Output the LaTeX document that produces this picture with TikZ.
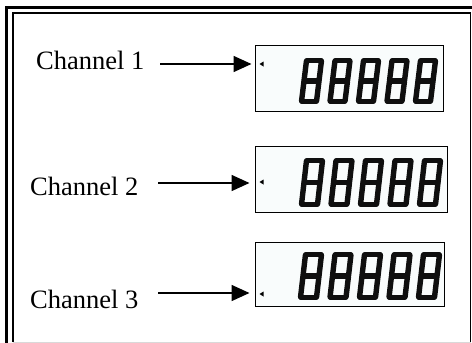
\documentclass[tikz,border=0pt]{standalone}
\usepackage{fontspec}
\setmainfont{Liberation Serif}
\usetikzlibrary{arrows.meta,calc}
\definecolor{lcdbg}{RGB}{249,252,252}
\definecolor{segcol}{RGB}{15,15,15}
\tikzset{
  chlabel/.style={anchor=base west,inner sep=0pt,font=\fontsize{26.5}{31}\selectfont},
  lcdbox/.style={draw=black,line width=1pt,fill=lcdbg,inner sep=0pt},
  arr/.style={line width=1.6pt,-{Triangle[length=18pt,width=16pt]}},
  seg/.style={draw=segcol,line width=5.4pt,line cap=round,shorten >=0.6pt,shorten <=0.6pt},
  marker/.style={fill=black,draw=none}
}
% x y(top) H W S
\newcommand{\lcddigit}[5]{%
  \draw[seg] ({#1+#5},{#2}) -- ({#1+#4+#5},{#2});
  \draw[seg] ({#1+#4+#5},{#2}) -- ({#1+#4+#5/2},{#2+#3/2});
  \draw[seg] ({#1+#4+#5/2},{#2+#3/2}) -- ({#1+#4},{#2+#3});
  \draw[seg] ({#1+#4},{#2+#3}) -- ({#1},{#2+#3});
  \draw[seg] ({#1},{#2+#3}) -- ({#1+#5/2},{#2+#3/2});
  \draw[seg] ({#1+#5/2},{#2+#3/2}) -- ({#1+#5},{#2});
  \draw[seg] ({#1+#5/2},{#2+#3/2}) -- ({#1+#4+#5/2},{#2+#3/2});
}
% x0 y0 H W S P
\newcommand{\lcdrow}[6]{%
  \foreach \k in {0,...,4}{\lcddigit{#1+\k*#6}{#2}{#3}{#4}{#5}}%
}
\begin{document}
\begin{tikzpicture}[x=1pt,y=-1pt]
\useasboundingbox (0,0) rectangle (472,343);
\fill[white] (0,0) rectangle (472,343);
% frame
\draw[line width=3pt,black] (6.5,345) -- (6.5,7.5) -- (474,7.5);
\draw[line width=2pt,black] (13,342) -- (13,13) -- (470.5,13);
\draw[line width=1.5pt,black] (470.5,13) -- (470.5,342);
\draw[line width=1pt,black!15] (13,342) -- (470.5,342);

% displays
\node[lcdbox,minimum width=188pt,minimum height=66pt] (d1) at (349,78) {};
\node[lcdbox,minimum width=192pt,minimum height=66pt] (d2) at (351,179) {};
\node[lcdbox,minimum width=189pt,minimum height=64pt] (d3) at (349.5,274) {};

\lcdrow{301.5}{60.5}{41}{15}{5}{28.5}
\lcdrow{301.5}{160.5}{44}{16}{5}{29.5}
\lcdrow{300.5}{254.5}{43}{16}{5}{29.5}

\fill[marker] (259.5,64) -- (263.5,61.5) -- (263.5,66.5) -- cycle;
\fill[marker] (259.5,182) -- (263.5,179.5) -- (263.5,184.5) -- cycle;
\fill[marker] (259.5,294) -- (263.5,291.5) -- (263.5,296.5) -- cycle;

% labels
\node[chlabel] (ch1) at (36,69) {Channel 1};
\node[chlabel] (ch2) at (30,195) {Channel 2};
\node[chlabel] (ch3) at (30,308) {Channel 3};

\coordinate (a1) at (160,64);
\coordinate (a2) at (158,183);
\coordinate (a3) at (158,293);
\draw[arr] (a1) -- ([xshift=-3pt]d1.west |- a1);
\draw[arr] (a2) -- ([xshift=-5pt]d2.west |- a2);
\draw[arr] (a3) -- ([xshift=-5pt]d3.west |- a3);
\end{tikzpicture}
\end{document}
